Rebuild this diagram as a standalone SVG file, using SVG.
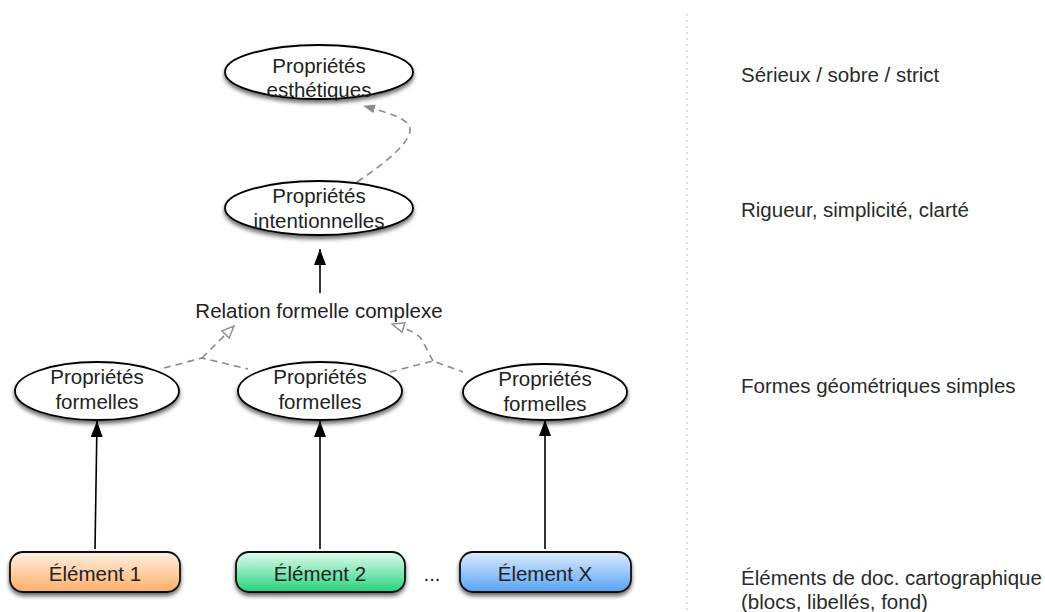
<svg xmlns="http://www.w3.org/2000/svg" width="1045" height="612" viewBox="0 0 1045 612">
<style>
text{font-family:"Liberation Sans",Arial,sans-serif;font-size:20.5px;fill:#222;text-anchor:middle}
.side{text-anchor:start;font-size:20.5px;fill:#2a2a2a}
.ell{fill:#fff;stroke:#000;stroke-width:1.8;filter:url(#sh)}
.box{stroke:#111;stroke-width:1.8;filter:url(#sh)}
.solid{stroke:#000;stroke-width:1.6;fill:none;marker-end:url(#ah)}
.dash{stroke:#8c8c8c;stroke-width:1.6;fill:none;stroke-dasharray:7,5}
</style>
<defs>
<filter id="sh" x="-20%" y="-30%" width="140%" height="170%"><feDropShadow dx="0" dy="3" stdDeviation="2" flood-color="#000" flood-opacity="0.6"/></filter>
<marker id="ah" markerWidth="16" markerHeight="12" refX="16" refY="6" orient="auto" markerUnits="userSpaceOnUse" viewBox="0 0 16 12"><path d="M0,0 L16,6 L0,12 z" fill="#000"/></marker>
<marker id="gf" markerWidth="12" markerHeight="10" refX="11" refY="5" orient="auto" markerUnits="userSpaceOnUse" viewBox="0 0 12 10"><path d="M0,0.5 L12,5 L0,9.5 z" fill="#8c8c8c"/></marker>
<marker id="go" markerWidth="14" markerHeight="12" refX="13" refY="6" orient="auto" markerUnits="userSpaceOnUse" viewBox="0 0 14 12"><path d="M1,1 L13,6 L1,11 z" fill="#fff" stroke="#8c8c8c" stroke-width="1.4"/></marker>
<linearGradient id="gO" x1="0" y1="0" x2="0" y2="1"><stop offset="0" stop-color="#fff0e2"/><stop offset="1" stop-color="#fdae68"/></linearGradient>
<linearGradient id="gG" x1="0" y1="0" x2="0" y2="1"><stop offset="0" stop-color="#e3fcee"/><stop offset="1" stop-color="#25d27c"/></linearGradient>
<linearGradient id="gB" x1="0" y1="0" x2="0" y2="1"><stop offset="0" stop-color="#dcebfd"/><stop offset="1" stop-color="#57a3f4"/></linearGradient>
</defs>
<line x1="687" y1="14" x2="687" y2="612" stroke="#c8c8c8" stroke-width="1.2" stroke-dasharray="2,4"/>
<g id="connectors">
<path class="solid" d="M95,549 L97,421"/>
<path class="solid" d="M320,549 L320,421"/>
<path class="solid" d="M545,549 L545,420"/>
<path class="solid" d="M320,293 L320,249"/>
<path class="dash" marker-end="url(#gf)" d="M357,182 C390,160 412,140 410,128 C408,118 385,112 364,106"/>
<path class="dash" d="M164,368 L202,358 L248,369"/>
<path class="dash" marker-end="url(#go)" d="M202,358 L234,326"/>
<path class="dash" d="M390,372 L433,361 L463,372"/>
<path class="dash" marker-end="url(#go)" d="M433,361 L422,340 Q418,332 392,324"/>
</g>
<g id="n-esthetiques"><ellipse class="ell" cx="319" cy="72" rx="94" ry="27"/><text x="319" y="73">Propriétés</text><text x="319" y="97">esthétiques</text></g>
<g id="n-intentionnelles"><ellipse class="ell" cx="319" cy="208" rx="94" ry="27"/><text x="319" y="203">Propriétés</text><text x="319" y="228">intentionnelles</text></g>
<g id="n-relation"><text x="319" y="318">Relation formelle complexe</text></g>
<g id="n-formelles1"><ellipse class="ell" cx="97" cy="391" rx="82" ry="29"/><text x="97" y="384">Propriétés</text><text x="97" y="409">formelles</text></g>
<g id="n-formelles2"><ellipse class="ell" cx="320" cy="391" rx="82" ry="29"/><text x="320" y="384">Propriétés</text><text x="320" y="409">formelles</text></g>
<g id="n-formelles3"><ellipse class="ell" cx="545" cy="392" rx="82" ry="28"/><text x="545" y="386">Propriétés</text><text x="545" y="411">formelles</text></g>
<g id="n-el1"><rect class="box" x="10" y="552" width="170" height="40" rx="13" fill="url(#gO)"/><text x="95" y="581">Élément 1</text></g>
<g id="n-el2"><rect class="box" x="236" y="552" width="169" height="40" rx="13" fill="url(#gG)"/><text x="320" y="581">Élément 2</text></g>
<g id="n-dots"><text x="432" y="581">...</text></g>
<g id="n-elX"><rect class="box" x="460" y="552" width="171" height="40" rx="13" fill="url(#gB)"/><text x="545" y="581">Élement X</text></g>
<g id="legend">
<text class="side" x="741" y="82">Sérieux / sobre / strict</text>
<text class="side" x="741" y="217">Rigueur, simplicité, clarté</text>
<text class="side" x="741" y="393">Formes géométriques simples</text>
<text class="side" x="741" y="585">Éléments de doc. cartographique</text>
<text class="side" x="741" y="609">(blocs, libellés, fond)</text>
</g>
</svg>
